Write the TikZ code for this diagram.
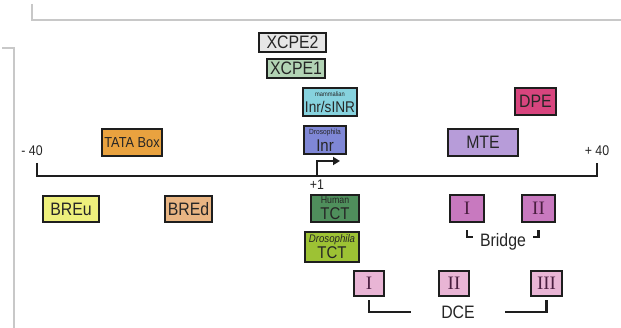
\documentclass[tikz,border=0pt]{standalone}
\usepackage{fontspec}
\setmainfont[FakeStretch=0.88]{Liberation Sans}
\newfontfamily\romfont{Liberation Serif}
\usetikzlibrary{arrows.meta,calc}
\definecolor{boxline}{HTML}{1E1E1E}
\definecolor{txt}{HTML}{262626}
\definecolor{frame}{HTML}{C8C8C8}
\definecolor{cXCPEtwo}{HTML}{E6E6E6}
\definecolor{cXCPEone}{HTML}{B2D3B4}
\definecolor{cInrS}{HTML}{86D2DE}
\definecolor{cDInr}{HTML}{7F87D6}
\definecolor{cTATA}{HTML}{E9A23F}
\definecolor{cMTE}{HTML}{B79CD9}
\definecolor{cDPE}{HTML}{D8457E}
\definecolor{cBREu}{HTML}{EEF07C}
\definecolor{cBREd}{HTML}{E9B583}
\definecolor{cHTCT}{HTML}{4F8F5C}
\definecolor{cDTCT}{HTML}{9DC234}
\definecolor{cBridge}{HTML}{C879BF}
\definecolor{cDCE}{HTML}{E9B5D5}
\definecolor{romtxt}{HTML}{4A1E40}
\tikzset{
  box/.style={draw=boxline, line width=2.4pt, inner sep=0pt, text=txt, align=center,
    font=\fontsize{18}{18}\selectfont},
  rombox/.style={box, text=romtxt, font=\romfont\fontsize{19}{19}\selectfont},
  lbl/.style={inner sep=0pt, text=txt, font=\fontsize{14}{14}\selectfont},
  biglbl/.style={inner sep=0pt, text=txt, font=\fontsize{18}{18}\selectfont},
  axis/.style={draw=boxline, line width=2.6pt},
  brk/.style={draw=boxline, line width=2.2pt},
  framel/.style={draw=frame, line width=1.2pt}
}
\begin{document}
\begin{tikzpicture}[x=1pt,y=-1pt]
\fill[white] (0,0) rectangle (621,328);
\useasboundingbox (0,0) rectangle (621,328);
% frame lines
\draw[framel] (32,4) -- (32,20) -- (621,20);
\draw[framel] (2,48) -- (14,48) -- (14,328);
% boxes
\node[box, fill=cXCPEtwo, minimum width=67pt, minimum height=19pt] (xcpe2) at (292.5,42.5) {XCPE2};
\node[box, fill=cXCPEone, minimum width=58pt, minimum height=19pt] (xcpe1) at (296,68.5) {XCPE1};
\node[box, fill=cInrS, minimum width=54pt, minimum height=28pt] (inrs) at (330,102)
  {{\fontsize{6.5}{7}\selectfont mammalian}\\[-2pt]{\fontsize{15.5}{15.5}\selectfont Inr/sINR}};
\node[box, fill=cDInr, minimum width=42pt, minimum height=28pt] (dinr) at (325,140)
  {{\fontsize{7.5}{8}\selectfont Drosophila}\\[-1pt]{\fontsize{17}{17}\selectfont Inr}};
\node[box, fill=cTATA, minimum width=60pt, minimum height=27pt, font=\fontsize{14.5}{14.5}\selectfont] (tata) at (132,142.5) {TATA Box};
\node[box, fill=cMTE, minimum width=70pt, minimum height=27pt] (mte) at (483,142.5) {MTE};
\node[box, fill=cDPE, minimum width=41pt, minimum height=27pt] (dpe) at (535.5,101.5) {DPE};
\node[box, fill=cBREu, minimum width=56pt, minimum height=26pt] (breu) at (71,209) {BREu};
\node[box, fill=cBREd, minimum width=47pt, minimum height=26pt] (bred) at (188.5,209) {BREd};
\node[box, fill=cHTCT, minimum width=48pt, minimum height=27pt] (htct) at (335,208.5)
  {{\fontsize{10}{10}\selectfont Human}\\[-2pt]{\fontsize{17}{17}\selectfont TCT}};
\node[box, fill=cDTCT, minimum width=54pt, minimum height=30pt] (dtct) at (332,247)
  {{\fontsize{11}{11}\selectfont\itshape Drosophila}\\[-2pt]{\fontsize{17}{17}\selectfont TCT}};
\node[rombox, fill=cBridge, minimum width=34pt, minimum height=27pt] (bri) at (467,208.5) {I};
\node[rombox, fill=cBridge, minimum width=33pt, minimum height=27pt] (brii) at (538.5,208.5) {II};
\node[rombox, fill=cDCE, minimum width=30pt, minimum height=25pt] (dcei) at (369,283.5) {I};
\node[rombox, fill=cDCE, minimum width=30pt, minimum height=25pt] (dceii) at (454,283.5) {II};
\node[rombox, fill=cDCE, minimum width=31pt, minimum height=25pt] (dceiii) at (546.5,283.5) {III};
% axis
\coordinate (axl) at (37,176);
\coordinate (axr) at (597,176);
\coordinate (tss) at (317,176);
\draw[axis] ($(axl)+(0,-13)$) -- (axl) -- (axr) -- ($(axr)+(0,-13)$);
\draw[boxline, line width=2.2pt, -{Triangle[length=7pt,width=8pt]}] (tss) -- ++(0,-15) -- ++(23,0);
% labels
\node[lbl] (m40) at (32,151) {- 40};
\node[lbl] (p40) at (597,151) {+ 40};
\node[lbl] (p1) at (317,185) {+1};
\node[biglbl] (bridge) at (503,242) {Bridge};
\node[biglbl] (dce) at (458,312) {DCE};
% brackets
\draw[brk] ($(bri.south)+(0,7)$) -- ++(0,7) -- ++(6,0);
\draw[brk] ($(brii.south)+(0,7)$) -- ++(0,7) -- ++(-6,0);
\draw[brk] ($(dcei.south)+(0,3)$) -- (dcei.south |- dce) -- ($(dcei.south |- dce)+(42,0)$);
\draw[brk] ($(dceiii.south)+(0,3)$) -- (dceiii.south |- dce) -- ($(dceiii.south |- dce)+(-42,0)$);
\end{tikzpicture}
\end{document}
